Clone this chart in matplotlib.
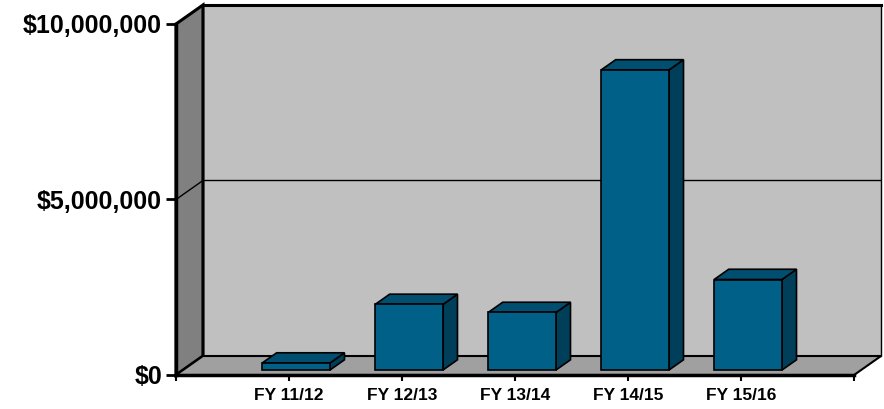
import matplotlib.pyplot as plt
from matplotlib.patches import Polygon
from matplotlib.ticker import FuncFormatter

categories = ['FY 11/12', 'FY 12/13', 'FY 13/14', 'FY 14/15', 'FY 15/16']
values = [200000, 1870000, 1640000, 8550000, 2580000]
y_ticks = [0, 5000000, 10000000]

# 3d look: depth vector in data units
dx, dy = 0.2385, 541000
n_slots = 6
ymax = 10000000
bar_w = 0.6
front = 0.26     # where the bar front sits in the depth
depth = 0.54     # bar depth as a share of the floor depth

face_col = '#006088'
top_col = '#004f70'
side_col = '#003f5a'

plt.rcParams['font.family'] = ['Liberation Sans', 'DejaVu Sans']

fig = plt.figure(figsize=(8.84, 4.09), dpi=100)
ax = fig.add_axes([176 / 884, 34 / 409, 705 / 884, 370 / 409])
ax.set_xlim(0, n_slots + dx)
ax.set_ylim(0, ymax + dy)
for s in ax.spines.values():
    s.set_visible(False)


def poly(pts, fc, lw=1.2, z=1):
    ax.add_patch(Polygon(pts, closed=True, facecolor=fc, edgecolor='black',
                         linewidth=lw, zorder=z, joinstyle='miter', clip_on=False))


# walls and floor
poly([(dx, dy), (n_slots + dx, dy), (n_slots + dx, ymax + dy), (dx, ymax + dy)], '#c0c0c0', lw=1.0)
poly([(0, 0), (dx, dy), (dx, ymax + dy), (0, ymax)], '#808080', lw=2.2)
poly([(0, 0), (n_slots, 0), (n_slots + dx, dy), (dx, dy)], '#a0a0a0', lw=1.5)
ax.plot([dx, n_slots + dx], [ymax + dy, ymax + dy], color='black', lw=2.2, clip_on=False, zorder=2)
ax.plot([0, 0], [0, ymax], color='black', lw=2.5, clip_on=False, zorder=3)
ax.plot([0, n_slots], [0, 0], color='black', lw=2.5, clip_on=False, zorder=3)

# gridline at 5M
g = y_ticks[1]
ax.plot([0, dx, n_slots + dx], [g, g + dy, g + dy], color='black', lw=1.0, zorder=1.5)

# bars
for i, v in enumerate(values):
    c = i + 1
    x0 = c - bar_w / 2 + front * dx
    x1 = x0 + bar_w
    y0 = front * dy
    y1 = y0 + v
    ddx, ddy = depth * dx, depth * dy
    poly([(x1, y0), (x1 + ddx, y0 + ddy), (x1 + ddx, y1 + ddy), (x1, y1)], side_col, z=4)
    poly([(x0, y1), (x1, y1), (x1 + ddx, y1 + ddy), (x0 + ddx, y1 + ddy)], top_col, z=4)
    poly([(x0, y0), (x1, y0), (x1, y1), (x0, y1)], face_col, z=5)

ax.set_yticks(y_ticks)
ax.yaxis.set_major_formatter(FuncFormatter(lambda v, p: '${:,.0f}'.format(v)))
ax.set_xticks(range(0, n_slots + 1))
ax.set_xticklabels([''] + categories + [''])
ax.tick_params(axis='y', length=7, width=2, labelsize=18, pad=3)
ax.tick_params(axis='x', length=4, width=1.5, labelsize=12.5, pad=5)
for lab in ax.get_yticklabels() + ax.get_xticklabels():
    lab.set_fontweight('bold')

fig.savefig('out.png', dpi=100)
